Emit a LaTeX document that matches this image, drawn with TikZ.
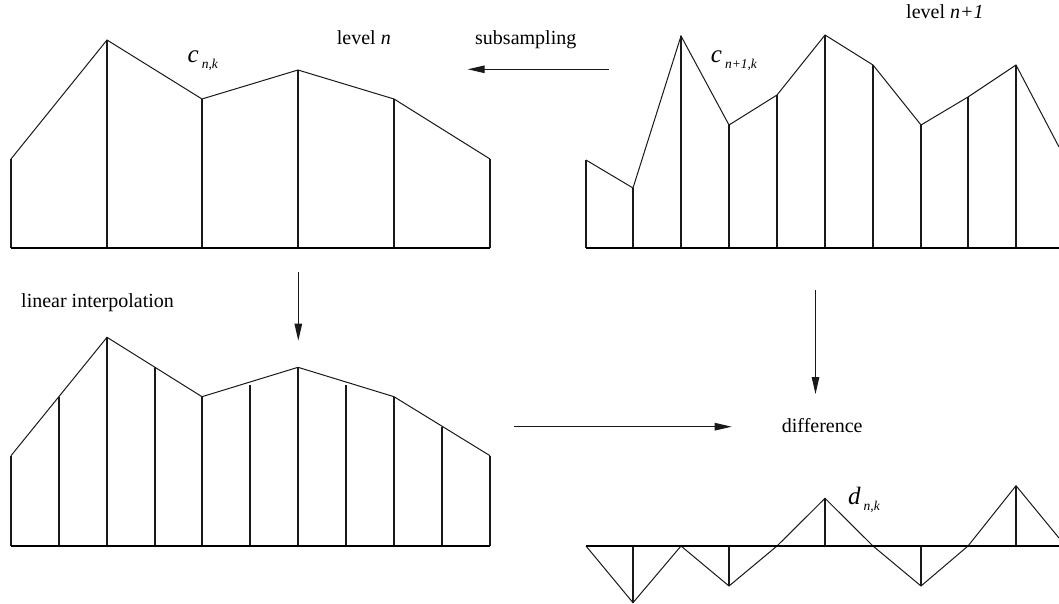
\documentclass[tikz,border=0pt]{standalone}
\usepackage{fontspec}
\setmainfont{Liberation Serif}
\usepackage{tikz}
\usetikzlibrary{arrows.meta}

% label with a big italic letter and a lowered small index
\def\coef#1#2{{\fontsize{25}{25}\selectfont\itshape #1}\hspace{3pt}%
  \raisebox{-6pt}{\fontsize{13.5}{14}\selectfont\itshape #2}}

\begin{document}
\begin{tikzpicture}[
  x=1pt, y=-1pt,
  axis/.style={line width=2pt, black},
  stem/.style={line width=1.5pt, black!90},
  curve/.style={line width=1pt, black!90, line join=miter},
  fl/.style={-{Triangle[length=17pt, width=7.5pt]}, line width=1.1pt, black!90},
  txt/.style={font=\fontsize{20}{24}\selectfont, inner sep=0pt, anchor=base west},
  lbl/.style={inner sep=0pt, anchor=base west},
]
\useasboundingbox (0,0) rectangle (1059,604);

\def\rA{248}   % baseline, level n and level n+1
\def\rB{546}   % baseline, interpolation and difference

% ============ level n (top left) ===========================================
\draw[curve] (11,159) -- (107,40) -- (202,99) -- (298,70) -- (394,99) -- (490,159);
\foreach \x/\y in {11/159, 107/40, 202/99, 298/70, 394/99, 490/159}
  \draw[stem] (\x,\rA) -- (\x,\y);
\draw[axis] (11,\rA) -- (490,\rA);
\node[lbl] (cnk) at (187.5,63) {\coef{c}{n,k}};
\node[txt] (lvln) at (336.7,45) {level \textit{n}};

% ============ level n+1 (top right) ========================================
\draw[curve] (586,160) -- (633,188) -- (681,36) -- (729,125) -- (777,95)
  -- (825,35) -- (873,65) -- (921,125) -- (968,97) -- (1016,65) -- (1059,147);
\foreach \x/\y in {586/160, 633/188, 681/36, 729/125, 777/95,
                   825/35, 873/65, 921/125, 968/97, 1016/65}
  \draw[stem] (\x,\rA) -- (\x,\y);
\draw[axis] (586,\rA) -- (1059,\rA);
\node[lbl] (cnnk) at (710.7,63) {\coef{c}{n+1,k}};
\node[txt] (lvlnn) at (906,19) {level \textit{n+1}};

% ============ interpolation (bottom left) ==================================
\draw[curve] (11,455.7) -- (107,337.3) -- (202,396.7) -- (298,367.3) -- (394,396.7) -- (490,455.7);
\foreach \x/\y in {11/455.7, 59/396.7, 107/337.3, 155/367.3, 202/396.7, 250/385.3,
                   298/367.3, 346/385.3, 394/396.7, 442/426.7, 490/455.7}
  \draw[stem] (\x,\rB) -- (\x,\y);
\draw[axis] (11,\rB) -- (490,\rB);
\node[txt] (lin) at (21,307.7) {linear interpolation};

% ============ difference (bottom right) ====================================
\draw[curve] (586,\rB) -- (633,602.7) -- (681,\rB) -- (729,586) -- (777,\rB)
  -- (825,498.3) -- (873,\rB) -- (921,586) -- (968,\rB) -- (1016,485.7) -- (1059,538);
\foreach \x/\y in {633/602.7, 729/586, 825/498.3, 921/586, 1016/485.7}
  \draw[stem] (\x,\rB) -- (\x,\y);
\draw[axis] (586,\rB) -- (1059,\rB);
\node[lbl] (dnk) at (848,504) {\coef{d}{n,k}};
\node[txt] (diff) at (781.7,432.7) {difference};
\node[txt] (subs) at (475,45) {subsampling};

% ============ flows ========================================================
\coordinate (subsA) at (609,69.3);
\coordinate (subsB) at (467.7,69.3);
\coordinate (linA)  at (298.3,271.7);
\coordinate (linB)  at (298.3,340.7);
\coordinate (difA)  at (815.5,290);
\coordinate (difB)  at (815.5,394);
\coordinate (cmpA)  at (514,426.7);
\coordinate (cmpB)  at (731.7,426.7);

\draw[fl] (subsA) -- (subsB);
\draw[fl] (linA)  -- (linB);
\draw[fl] (difA)  -- (difB);
\draw[fl] (cmpA)  -- (cmpB);

\end{tikzpicture}
\end{document}
